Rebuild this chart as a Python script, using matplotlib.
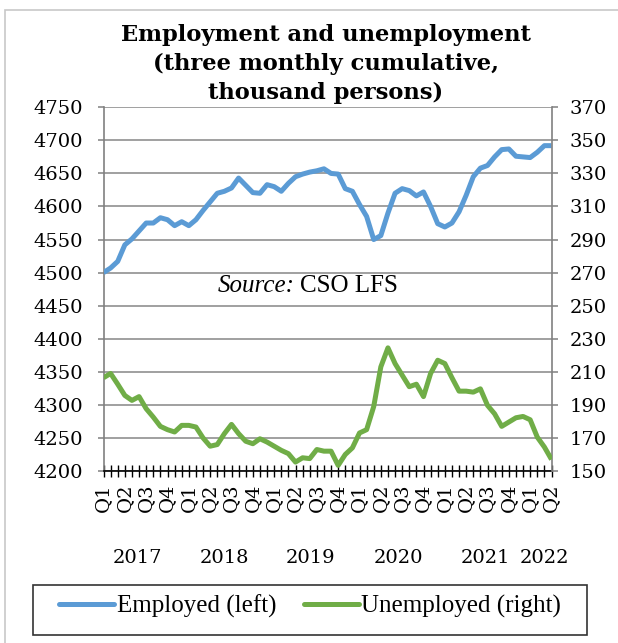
import matplotlib
matplotlib.use("Agg")
import matplotlib.pyplot as plt
import numpy as np
from matplotlib.patches import Rectangle
from matplotlib.lines import Line2D

# ---------------- data ----------------
employed = [4500, 4507, 4517, 4542, 4551, 4563, 4575, 4575, 4583, 4580,
            4571, 4577, 4571, 4580, 4594, 4607, 4620, 4623, 4628, 4643,
            4632, 4621, 4620, 4633, 4630, 4623, 4635, 4645, 4649, 4652,
            4654, 4657, 4650, 4649, 4627, 4623, 4603, 4585, 4550, 4556,
            4590, 4620, 4627, 4624, 4616, 4622, 4600, 4574, 4569, 4575,
            4592, 4617, 4645, 4658, 4662, 4675, 4686, 4687, 4676, 4675,
            4674, 4682, 4692, 4692]
unemployed = [206.4, 209, 202.5, 195.7, 192.7, 195, 187.7, 182.6, 177, 175,
              173.6, 177.6, 177.6, 176.6, 170, 165, 166, 172.6, 178.2, 172.6,
              168, 166.5, 169.5, 167.5, 165, 162.5, 160.5, 155.4, 158, 157.5,
              163, 162, 162, 153.4, 160, 164, 173, 175, 189, 213,
              224.5, 215, 208, 201, 202.5, 195, 209, 217, 215, 206.4,
              198.3, 198.3, 197.7, 199.7, 189.7, 184.6, 177, 179.6, 182.2, 183,
              181, 170.5, 164.5, 157]
quarter_labels = ["Q1", "Q2", "Q3", "Q4"] * 5 + ["Q1", "Q2"]
year_labels = ["2017", "2018", "2019", "2020", "2021", "2022"]
title_lines = ["Employment and unemployment",
               "(three monthly cumulative,",
               "thousand persons)"]
series_names = ["Employed (left)", "Unemployed (right)"]

# ---------------- layout ----------------
W, H = 618, 643
BLUE = "#5B9BD5"
GREEN = "#70AD47"
GRID = "#868686"
TICKFONT = "DejaVu Serif"
TEXTFONT = "Liberation Serif"
TICKSIZE = 14

fig = plt.figure(figsize=(W / 100, H / 100), dpi=100)

def fx(px):
    return px / W

def fy(py):
    return 1 - py / H

ax = fig.add_axes([fx(103.5), fy(471), fx(551.5) - fx(103.5), fy(107.3) - fy(471)])
ax2 = ax.twinx()

x = np.arange(len(employed))
ax.plot(x, employed, color=BLUE, lw=3.6, solid_joinstyle="round",
        solid_capstyle="butt", zorder=3)
ax2.plot(x, unemployed, color=GREEN, lw=3.6, solid_joinstyle="round",
         solid_capstyle="butt", zorder=3)

ax.set_xlim(0, len(employed) - 1)
ax.set_ylim(4200, 4750)
ax.set_yticks(np.arange(4200, 4751, 50))
ax2.set_ylim(150, 370)
ax2.set_yticks(np.arange(150, 371, 20))

ax.grid(axis="y", color=GRID, lw=1.1)
ax.set_axisbelow(True)

# x ticks at every month, labels at every quarter
xt_labels = []
qi = 0
for i in range(len(employed)):
    if i % 3 == 0:
        xt_labels.append(quarter_labels[qi])
        qi += 1
    else:
        xt_labels.append("")
ax.set_xticks(x)
ax.set_xticklabels(xt_labels, rotation=90, fontfamily=TICKFONT, fontsize=TICKSIZE)
ax.tick_params(axis="x", direction="inout", length=8.5, width=1.0, color="black", pad=5)

for a in (ax, ax2):
    a.spines["top"].set_visible(False)
ax.spines["right"].set_visible(False)
ax2.spines["left"].set_visible(False)
ax2.spines["bottom"].set_visible(False)
ax.spines["left"].set_color("#808080")
ax.spines["left"].set_linewidth(1.2)
ax2.spines["right"].set_color("#808080")
ax2.spines["right"].set_linewidth(1.2)
ax.spines["bottom"].set_color("black")
ax.spines["bottom"].set_linewidth(1.2)

ax.tick_params(axis="y", direction="out", length=4.5, width=1.1, color="#808080", pad=10)
ax2.tick_params(axis="y", direction="out", length=4.5, width=1.1, color="#808080", pad=8.5)
for lab in ax.get_yticklabels() + ax2.get_yticklabels():
    lab.set_fontfamily(TICKFONT)
    lab.set_fontsize(TICKSIZE)

# year labels
year_px = [137.5, 224, 310.7, 398, 485, 544.7]
for yl, px in zip(year_labels, year_px):
    fig.text(fx(px), fy(558), yl, ha="center", va="center",
             fontfamily=TICKFONT, fontsize=TICKSIZE)

# title
for line, py in zip(title_lines, [35, 64, 93]):
    fig.text(fx(326), fy(py), line, ha="center", va="center",
             fontfamily=TICKFONT, fontweight="bold", fontsize=16.3)

# source note
fig.text(fx(295), fy(292), "Source:", ha="right", va="baseline",
         fontfamily=TEXTFONT, fontstyle="italic", fontsize=18)
fig.text(fx(300), fy(292), "CSO LFS", ha="left", va="baseline",
         fontfamily=TEXTFONT, fontsize=18)

# legend box
fig.patches.append(Rectangle((fx(33), fy(635)), fx(587) - fx(33), fy(585) - fy(635),
                             transform=fig.transFigure, facecolor="white",
                             edgecolor="#333333", lw=1.2))
handles = [Line2D([], [], color=BLUE, lw=3.6, solid_capstyle="round"),
           Line2D([], [], color=GREEN, lw=3.6, solid_capstyle="round")]
leg = fig.legend(handles, series_names, loc="center",
                 bbox_to_anchor=(fx(310), fy(606)), ncol=2, frameon=False,
                 prop={"family": TEXTFONT, "size": 18},
                 handlelength=2.2, handletextpad=0.1, columnspacing=1.1)

# outer figure border (light gray)
fig.patches.append(Rectangle((fx(5), -0.1), 1.2, fy(10) + 0.1,
                             transform=fig.transFigure, facecolor="none",
                             edgecolor="#c8c8c8", lw=1.2, zorder=-1))

fig.savefig("out.png", dpi=100)
